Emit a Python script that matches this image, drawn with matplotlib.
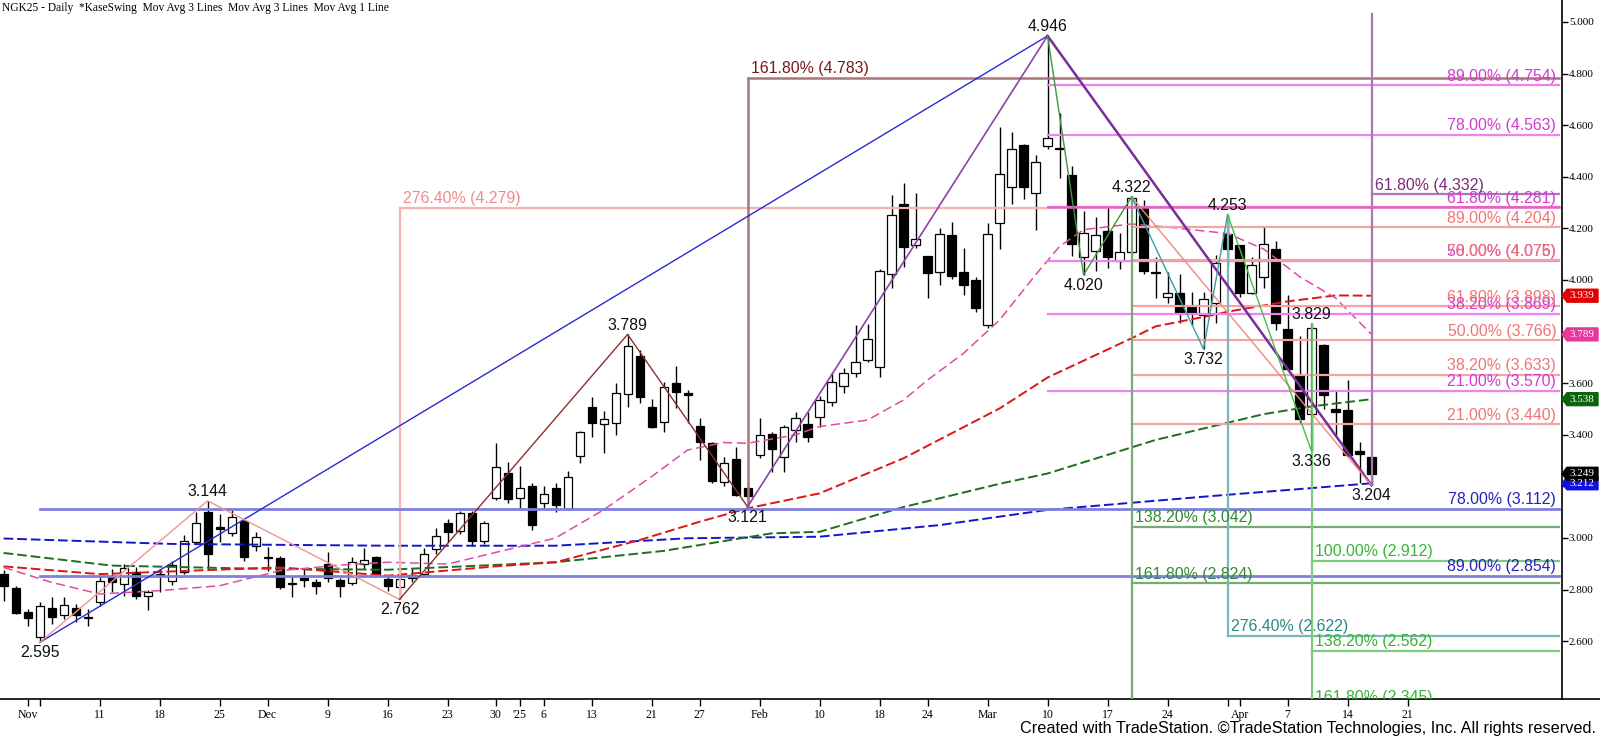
import matplotlib
matplotlib.use("Agg")
import matplotlib.pyplot as plt
from matplotlib import transforms
from matplotlib.patches import Polygon

# daily bars NGK25, 30 Oct 2024 .. 16 Apr 2025 (bar index 0..114)
opens = [2.860, 2.805, 2.712, 2.615, 2.728, 2.702, 2.728, 2.695, 2.753, 2.848,
         2.822, 2.867, 2.777, 2.860, 2.835, 2.867, 2.983, 3.102, 3.044, 3.019,
         3.067, 2.970, 2.928, 2.921, 2.824, 2.843, 2.828, 2.899, 2.838, 2.826,
         2.899, 2.925, 2.841, 2.809, 2.857, 2.860, 2.957, 3.060, 3.028, 3.095,
         2.990, 3.154, 3.251, 3.154, 3.202, 3.134, 3.192, 3.111, 3.318, 3.509,
         3.440, 3.445, 3.557, 3.707, 3.509, 3.448, 3.600, 3.560, 3.435, 3.367,
         3.218, 3.305, 3.195, 3.322, 3.403, 3.315, 3.419, 3.442, 3.468, 3.526,
         3.589, 3.638, 3.690, 3.664, 4.022, 4.295, 4.136, 4.093, 4.032, 4.174,
         4.032, 4.000, 3.825, 4.222, 4.359, 4.522, 4.336, 4.520, 4.511, 4.407,
         4.088, 4.114, 4.191, 4.075, 4.110, 4.282, 4.032, 3.933, 3.948, 3.897,
         3.864, 3.912, 4.178, 4.136, 3.948, 4.010, 4.119, 3.809, 3.628, 3.479,
         3.748, 3.500, 3.496, 3.338, 3.315]
highs = [2.875, 2.812, 2.725, 2.751, 2.770, 2.770, 2.744, 2.725, 2.854, 2.880,
         2.899, 2.886, 2.800, 2.880, 2.912, 3.011, 3.099, 3.144, 3.093, 3.112,
         3.073, 3.022, 2.964, 2.930, 2.854, 2.882, 2.841, 2.947, 2.844, 2.925,
         2.960, 2.930, 2.848, 2.873, 2.882, 2.960, 3.037, 3.073, 3.106, 3.106,
         3.067, 3.367, 3.296, 3.279, 3.214, 3.202, 3.214, 3.261, 3.416, 3.545,
         3.494, 3.602, 3.789, 3.729, 3.537, 3.606, 3.667, 3.574, 3.464, 3.373,
         3.313, 3.351, 3.218, 3.464, 3.412, 3.438, 3.487, 3.487, 3.550, 3.645,
         3.658, 3.825, 3.829, 4.041, 4.330, 4.377, 4.338, 4.093, 4.200, 4.226,
         4.123, 4.013, 4.222, 4.594, 4.575, 4.527, 4.485, 4.946, 4.646, 4.442,
         4.269, 4.245, 4.284, 4.183, 4.322, 4.310, 4.090, 4.030, 4.022, 3.955,
         3.955, 4.097, 4.253, 4.136, 4.090, 4.204, 4.152, 3.942, 3.783, 3.829,
         3.752, 3.574, 3.612, 3.373, 3.315]
lows = [2.757, 2.705, 2.660, 2.595, 2.667, 2.686, 2.676, 2.660, 2.738, 2.790,
        2.777, 2.764, 2.719, 2.790, 2.818, 2.860, 2.977, 2.880, 2.983, 3.009,
        2.912, 2.951, 2.873, 2.802, 2.770, 2.809, 2.783, 2.828, 2.770, 2.818,
        2.880, 2.848, 2.796, 2.762, 2.828, 2.848, 2.938, 2.983, 3.015, 2.970,
        2.977, 3.147, 3.135, 3.115, 3.031, 3.115, 3.102, 3.108, 3.290, 3.393,
        3.331, 3.400, 3.509, 3.522, 3.425, 3.412, 3.503, 3.445, 3.302, 3.214,
        3.200, 3.163, 3.121, 3.309, 3.257, 3.257, 3.373, 3.373, 3.432, 3.512,
        3.561, 3.625, 3.683, 3.625, 3.968, 4.049, 4.123, 3.929, 3.980, 4.003,
        3.942, 3.877, 3.813, 4.119, 4.295, 4.313, 4.194, 4.507, 4.394, 4.093,
        4.020, 4.036, 4.045, 4.041, 4.097, 4.023, 3.929, 3.912, 3.832, 3.826,
        3.732, 3.835, 4.058, 3.935, 3.946, 3.967, 3.806, 3.650, 3.445, 3.336,
        3.499, 3.400, 3.315, 3.212, 3.204]
closes = [2.813, 2.710, 2.689, 2.738, 2.693, 2.741, 2.700, 2.689, 2.835, 2.831,
          2.882, 2.777, 2.792, 2.851, 2.895, 2.990, 3.060, 2.938, 3.035, 3.080,
          2.925, 3.002, 2.922, 2.811, 2.820, 2.839, 2.813, 2.844, 2.813, 2.906,
          2.915, 2.860, 2.813, 2.841, 2.844, 2.938, 3.006, 3.022, 3.095, 2.990,
          3.060, 3.274, 3.150, 3.192, 3.050, 3.169, 3.128, 3.235, 3.412, 3.445,
          3.460, 3.561, 3.745, 3.548, 3.432, 3.587, 3.565, 3.553, 3.373, 3.222,
          3.292, 3.167, 3.163, 3.400, 3.344, 3.429, 3.464, 3.390, 3.535, 3.603,
          3.638, 3.681, 3.770, 4.035, 4.252, 4.129, 4.158, 4.028, 4.178, 4.015,
          3.981, 3.893, 4.178, 4.410, 4.507, 4.359, 4.456, 4.549, 4.506, 4.140,
          4.183, 4.174, 4.088, 4.110, 4.317, 4.036, 4.026, 3.951, 3.873, 3.873,
          3.925, 4.065, 4.119, 3.951, 4.058, 4.139, 3.835, 3.654, 3.460, 3.815,
          3.554, 3.490, 3.322, 3.325, 3.249]

# moving averages (bar index, value)
ma_pink_x = [0, 4, 8, 13, 18, 23, 28, 32, 37, 41, 46, 50, 54, 57, 60, 62, 66, 68, 72, 75,
             77, 80, 83, 86, 88, 90, 94, 97, 100, 102, 105, 108, 111, 114]
ma_pink_y = [2.886, 2.828, 2.783, 2.796, 2.815, 2.873, 2.895, 2.906, 2.899, 2.944, 3.000,
             3.109, 3.238, 3.341, 3.370, 3.367, 3.400, 3.432, 3.457, 3.535, 3.612, 3.716,
             3.845, 4.020, 4.130, 4.195, 4.217, 4.205, 4.190, 4.180, 4.120, 4.013, 3.930,
             3.789]
ma_red_x = [0, 8, 23, 32, 41, 46, 53, 58, 62, 68, 75, 83, 87, 94, 96, 101, 102, 107, 111, 114]
ma_red_y = [2.890, 2.860, 2.886, 2.854, 2.890, 2.906, 2.992, 3.063, 3.115, 3.173, 3.309,
            3.502, 3.622, 3.774, 3.820, 3.866, 3.877, 3.917, 3.940, 3.939]
ma_green_x = [0, 9, 20, 32, 46, 55, 64, 68, 75, 83, 87, 96, 105, 109, 114]
ma_green_y = [2.942, 2.893, 2.882, 2.877, 2.906, 2.950, 3.018, 3.024, 3.120, 3.210, 3.250,
              3.380, 3.480, 3.510, 3.538]
ma_blue_x = [0, 14, 32, 46, 57, 68, 78, 87, 100, 114]
ma_blue_y = [2.998, 2.977, 2.970, 2.970, 2.999, 3.005, 3.050, 3.109, 3.160, 3.212]

tick_pos = [2, 8, 13, 18, 22, 27, 32, 37, 41, 43, 45, 49, 54, 58, 63, 68, 73, 77, 82,
            87, 92, 97, 103, 107, 112, 117]
tick_lbl = ['Nov', '11', '18', '25', 'Dec', '9', '16', '23', '30', "'25", '6', '13', '21',
            '27', 'Feb', '10', '18', '24', 'Mar', '10', '17', '24', 'Apr', '7', '14', '21']
minor_pos = [3, 102]

# swing points (bar, 'H' = high / 'L' = low)
swing_pts = [(3, 'L'), (17, 'H'), (33, 'L'), (52, 'H'), (62, 'L'), (87, 'H'), (90, 'L'),
             (94, 'H'), (100, 'L'), (102, 'H'), (109, 'H'), (109, 'L'), (114, 'L')]

# fib levels
blue_lv = [("78.00%", 3.112), ("89.00%", 2.854)]
magenta_lv = [("89.00%", 4.754), ("78.00%", 4.563), ("61.80%", 4.281), ("50.00%", 4.075),
              ("38.20%", 3.869), ("21.00%", 3.570)]
salmon_lv = [("89.00%", 4.204), ("78.00%", 4.076), ("61.80%", 3.898), ("50.00%", 3.766),
             ("38.20%", 3.633), ("21.00%", 3.440)]
green_lv = [("138.20%", 3.042), ("161.80%", 2.824)]
teal_lv = [("276.40%", 2.622)]
lime_lv = [("100.00%", 2.912), ("138.20%", 2.562), ("161.80%", 2.345)]
ext_salmon = ("276.40%", 4.279)
ext_brown = ("161.80%", 4.783)
ext_purple = ("61.80%", 4.332)

SANS = 'Liberation Sans'
SERIF = 'Liberation Serif'
FS = 11.4


def price(pt):
    i, kind = pt
    return highs[i] if kind == 'H' else lows[i]


fig = plt.figure(figsize=(16, 7.39), dpi=100)
ax = fig.add_axes([0, 40 / 739, 1562 / 1600, 699 / 739])
ax.set_xlim(-0.3, 129.87)
ax.set_ylim(2.376, 5.085)
x_end = 129.6
ybot = ax.get_ylim()[0]

up = transforms.offset_copy(ax.transData, fig=fig, y=1.2, units='points')
dn = transforms.offset_copy(ax.transData, fig=fig, y=-2, units='points')

# candles
for i in range(len(opens)):
    o, h, l, c = opens[i], highs[i], lows[i], closes[i]
    ax.plot([i, i], [l, h], color='black', lw=1, zorder=2, solid_capstyle='butt')
    bot = min(o, c)
    hgt = max(abs(c - o), 0.005)
    fc = 'white' if c > o else 'black'
    ax.bar(i, hgt, bottom=bot, width=0.68, color=fc, edgecolor='black', lw=0.9, zorder=2.5)

# moving averages
ma_style = dict(lw=1.4, dashes=(5, 2), zorder=3)
ax.plot(ma_blue_x, ma_blue_y, color='#1414d0', **ma_style)
ax.plot(ma_green_x, ma_green_y, color='#1d6e1d', **ma_style)
ax.plot(ma_red_x, ma_red_y, color='#dd1515', **ma_style)
ax.plot(ma_pink_x, ma_pink_y, color='#e04aa5', lw=1.1, dashes=(6, 3), zorder=3)


def hlines_right(levels, start, lcol, tcol, lw=1.6):
    for pct, v in levels:
        ax.plot([start, x_end], [v, v], color=lcol, lw=lw, zorder=4)
        ax.text(x_end - 0.2, v, f"{pct} ({v:.3f})", transform=up, ha='right', va='bottom',
                color=tcol, fontsize=FS, family=SANS, zorder=6)


def hlines_left(levels, start, lcol, tcol, lw=1.6, end=None):
    for pct, v in levels:
        ax.plot([start, end if end is not None else x_end], [v, v], color=lcol, lw=lw, zorder=4)
        ax.text(start + 0.25, v, f"{pct} ({v:.3f})", transform=up, ha='left', va='bottom',
                color=tcol, fontsize=FS, family=SANS, zorder=6, clip_on=True)


# horizontal fib / projection levels
hlines_left([ext_salmon], 33, '#f5b4b4', '#f08a8a', end=87)
ax.plot([33, 33], [lows[33], ext_salmon[1]], color='#f5b4b4', lw=1.6, zorder=4)
hlines_left([ext_brown], 62, '#a97777', '#7a1818', lw=1.8)
ax.plot([62, 62], [lows[62], ext_brown[1]], color='#a97777', lw=1.8, zorder=4)
hlines_right(blue_lv, 3, '#7e7ee0', '#2323b8', lw=2)
hlines_right(magenta_lv, 87, '#ef82ef', '#d23ad2')
ax.plot([87, x_end], [4.281, 4.281], color='#e860b8', lw=1.8, zorder=4.1)
hlines_right(salmon_lv, 94, '#f4a4a4', '#f07474')
hlines_left([ext_purple], 114, '#a878b0', '#7a2a7a')
ax.plot([114, 114], [lows[114], 5.03], color='#a878b0', lw=1.6, zorder=4)
hlines_left(green_lv, 94, '#74ad74', '#2f8a2f')
ax.plot([94, 94], [highs[94], ybot], color='#74ad74', lw=1.6, zorder=4)
hlines_left(teal_lv, 102, '#7cb6b6', '#2a8888')
ax.plot([102, 102], [highs[102], teal_lv[0][1]], color='#7cb6b6', lw=1.6, zorder=4)
hlines_left(lime_lv, 109, '#7ccc7c', '#36b436')
ax.plot([109, 109], [highs[109], ybot], color='#7ccc7c', lw=1.6, zorder=4)


# swing lines
def zigzag(pts, col, lw=1.0):
    ax.plot([p[0] for p in pts], [price(p) for p in pts], color=col, lw=lw, zorder=5)


zigzag([(3, 'L'), (87, 'H')], '#2a2ad2')
zigzag([(3, 'L'), (17, 'H'), (33, 'L')], '#f09494')
zigzag([(33, 'L'), (52, 'H'), (62, 'L')], '#8c3030')
zigzag([(62, 'L'), (87, 'H')], '#8a44a6', lw=1.2)
zigzag([(87, 'H'), (114, 'L')], '#7a2c98', lw=1.8)
zigzag([(87, 'H'), (90, 'L'), (94, 'H')], '#3a9a3a')
zigzag([(94, 'H'), (114, 'L')], '#f08a7a')
zigzag([(94, 'H'), (100, 'L'), (102, 'H')], '#3e9c9c')
zigzag([(102, 'H'), (109, 'L'), (109, 'H')], '#44c044')

# swing labels
for pt in swing_pts:
    v = price(pt)
    if pt[1] == 'H':
        ax.text(pt[0], v, f"{v:.3f}", transform=up, ha='center', va='bottom',
                fontsize=FS, family=SANS, color='#111111', zorder=6)
    else:
        ax.text(pt[0], v, f"{v:.3f}", transform=dn, ha='center', va='top',
                fontsize=FS, family=SANS, color='#111111', zorder=6)

# axes styling
for s in ['left', 'top']:
    ax.spines[s].set_visible(False)
ax.spines['right'].set_linewidth(1.2)
ax.spines['bottom'].set_linewidth(1.2)
ax.yaxis.tick_right()
yt = [2.6 + 0.2 * k for k in range(13)]
ax.set_yticks(yt)
ax.set_yticklabels([f"{v:.3f}" for v in yt], family=SERIF, fontsize=8)
ax.tick_params(axis='y', direction='out', length=4, width=1, pad=1)
ax.set_xticks(tick_pos)
ax.set_xticklabels(tick_lbl, family=SERIF, fontsize=8.5)
ax.set_xticks(minor_pos, minor=True)
ax.tick_params(axis='x', which='both', direction='out', length=5, width=1, pad=2)
fig.add_artist(plt.Line2D([1562 / 1600, 1], [40 / 739, 40 / 739], color='black', lw=1.2))

# last-value tags on the price scale
bt = transforms.blended_transform_factory(fig.transFigure, ax.transData)
tags = [(ma_red_y[-1], '#e00000'), (ma_pink_y[-1], '#e8369c'), (ma_green_y[-1], '#0a640a'),
        (ma_blue_y[-1], '#1010e0'), (closes[-1], '#000000')]
for v, col in tags:
    hh = 0.025
    poly = Polygon([(1562 / 1600, v), (1567 / 1600, v + hh), (1598 / 1600, v + hh),
                    (1598 / 1600, v - hh), (1567 / 1600, v - hh)], closed=True,
                   transform=bt, facecolor=col, edgecolor=col, clip_on=False, zorder=7)
    fig.add_artist(poly)
    fig.text(1582 / 1600, v, f"{v:.3f}", transform=bt, ha='center', va='center',
             color='white', fontsize=8, family=SERIF, zorder=8)

fig.text(0.001, 0.997, "NGK25 - Daily  *KaseSwing  Mov Avg 3 Lines  Mov Avg 3 Lines  Mov Avg 1 Line",
         ha='left', va='top', family=SERIF, fontsize=8.3, color='black')
fig.text(1596 / 1600, 1 - 729 / 739,
         "Created with TradeStation. ©TradeStation Technologies, Inc. All rights reserved.",
         ha='right', va='center', family=SANS, fontsize=11.7, color='black')

fig.savefig('out.png', dpi=100)
